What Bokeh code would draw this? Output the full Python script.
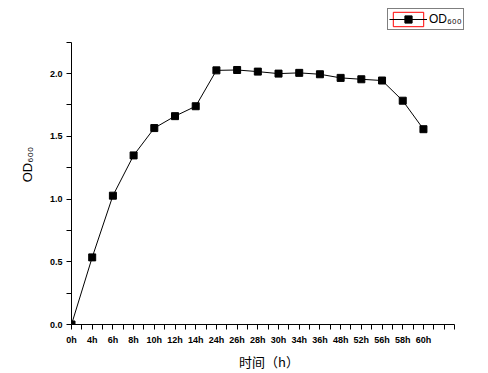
from bokeh.plotting import figure
from bokeh.models import (FixedTicker, PrintfTickFormatter, Range1d, Legend, LegendItem,
                          ColumnDataSource)
from bokeh.embed import file_html
from bokeh.resources import INLINE

# ---- data ----
time_labels = ["0h", "4h", "6h", "8h", "10h", "12h", "14h", "24h", "26h", "28h",
               "30h", "34h", "36h", "48h", "52h", "56h", "58h", "60h"]
od600 = [0.0, 0.535, 1.027, 1.348, 1.566, 1.661, 1.740, 2.026, 2.029, 2.016,
         2.000, 2.006, 1.995, 1.966, 1.955, 1.945, 1.784, 1.557]
y_ticks = [0.0, 0.5, 1.0, 1.5, 2.0]
y_minor = [0.25, 0.75, 1.25, 1.75, 2.25]
y_axis_max = 2.25
series_name = "OD\u2086\u2080\u2080"
x_title = "时间（h）"
y_title = "OD\u2086\u2080\u2080"

x_idx = list(range(len(time_labels)))
x_axis_max = len(time_labels) + 0.5
src = ColumnDataSource(dict(x=x_idx, od=od600, t=time_labels))

# layout (pixels)
W, H = 488, 373
BL, BB = 71, 47
AXIS_TOP = 42          # where the y axis line ends
AXIS_RIGHT = 454       # where the x axis line ends
BT, BR = 4, 22         # frame extends further so the legend can sit outside the axes
axis_h = H - BB - AXIS_TOP
frame_h = H - BB - BT
axis_w = AXIS_RIGHT - BL
frame_w = W - BR - BL
y_end = y_axis_max * frame_h / axis_h
x_end = x_axis_max * frame_w / axis_w

p = figure(width=W, height=H, output_backend="svg", toolbar_location=None,
           x_range=Range1d(0, x_end), y_range=Range1d(0, y_end),
           min_border_left=BL, min_border_right=BR, min_border_top=BT, min_border_bottom=BB)
p.outline_line_color = None
p.grid.visible = False
p.background_fill_color = "white"
p.border_fill_color = "white"

# zero-size outline rects: invisible in the plot, they give the red frame in the legend key
sel = p.rect("x", "od", source=src, width=0, height=0, fill_alpha=0,
             line_color="red", line_width=1)
ln = p.line("x", "od", source=src, line_color="black", line_width=1)
sc = p.scatter("x", "od", source=src, marker="square", size=7,
               fill_color="black", line_color="black")

# axes
major_x = list(range(len(time_labels) + 1))
p.xaxis.ticker = FixedTicker(ticks=major_x, minor_ticks=[i + 0.5 for i in major_x])
overrides = {i: lab for i, lab in enumerate(time_labels)}
overrides[len(time_labels)] = ""
p.xaxis.major_label_overrides = overrides
p.xaxis.bounds = (0, x_axis_max)
p.yaxis.ticker = FixedTicker(ticks=y_ticks, minor_ticks=y_minor)
p.yaxis.formatter = PrintfTickFormatter(format="%.1f")
p.yaxis.bounds = (0, y_axis_max)

for ax in (p.xaxis[0], p.yaxis[0]):
    ax.axis_line_color = "black"
    ax.axis_line_width = 1
    ax.major_tick_line_color = "black"
    ax.minor_tick_line_color = "black"
    ax.major_tick_in = 0
    ax.major_tick_out = 5
    ax.minor_tick_in = 0
    ax.minor_tick_out = 5
    ax.major_label_text_font = "Liberation Sans"
    ax.major_label_text_font_size = "9px"
    ax.major_label_text_color = "black"
    ax.major_label_text_font_style = "bold"
p.xaxis.major_label_standoff = 5
p.yaxis.major_label_standoff = 4

p.xaxis.axis_label = x_title
p.xaxis.axis_label_text_font = "Noto Sans CJK SC"
p.xaxis.axis_label_text_font_size = "13px"
p.xaxis.axis_label_text_font_style = "normal"
p.xaxis.axis_label_text_color = "black"
p.xaxis.axis_label_standoff = 4

p.yaxis.axis_label = y_title
p.yaxis.axis_label_text_font = "Liberation Sans"
p.yaxis.axis_label_text_font_size = "13px"
p.yaxis.axis_label_text_font_style = "normal"
p.yaxis.axis_label_text_color = "black"
p.yaxis.axis_label_standoff = 12

# legend (location measured from frame bottom-left, in pixels)
LEG_X, LEG_Y = 316, 294
legend = Legend(items=[LegendItem(label=series_name, renderers=[sel, ln, sc])],
                location=(LEG_X, LEG_Y), orientation="vertical")
legend.border_line_color = "black"
legend.border_line_width = 1
legend.background_fill_color = "white"
legend.background_fill_alpha = 1
legend.padding = 1
legend.margin = 0
legend.spacing = 0
legend.glyph_width = 38
legend.glyph_height = 18
legend.label_height = 18
legend.label_standoff = 2
legend.label_text_font = "Liberation Sans"
legend.label_text_font_size = "12px"
legend.label_text_color = "black"
p.add_layout(legend, "center")

open("out.html", "w").write(file_html(p, INLINE))
